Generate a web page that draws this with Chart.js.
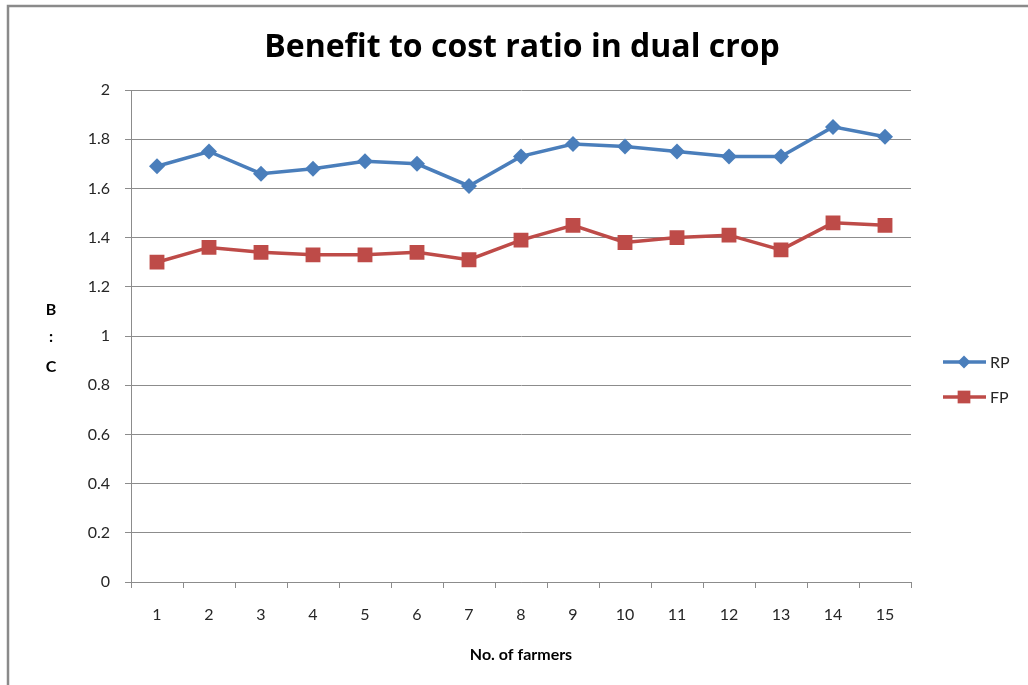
<!DOCTYPE html>
<html>
<head>
<meta charset="utf-8">
<title>Benefit to cost ratio in dual crop</title>
<script src="https://cdn.jsdelivr.net/npm/chart.js@4/dist/chart.umd.min.js"></script>
<style>
  html, body { margin: 0; padding: 0; background: #ffffff; }
  canvas { display: block; }
</style>
</head>
<body>
<canvas id="chart" width="1028" height="685"></canvas>
<script>
// Farmer numbers along the category axis
const farmers = ['1', '2', '3', '4', '5', '6', '7', '8', '9', '10', '11', '12', '13', '14', '15'];

// Benefit : cost ratios per farmer
const rpValues = [1.69, 1.75, 1.66, 1.68, 1.71, 1.70, 1.61, 1.73, 1.78, 1.77, 1.75, 1.73, 1.73, 1.85, 1.81];
const fpValues = [1.30, 1.36, 1.34, 1.33, 1.33, 1.34, 1.31, 1.39, 1.45, 1.38, 1.40, 1.41, 1.35, 1.46, 1.45];

// Value axis range and step
const yMin = 0;
const yMax = 2;
const yStep = 0.2;

// Text labels
const chartTitle = 'Benefit to cost ratio in dual crop';
const xTitle = 'No. of farmers';
const yTitleLines = ['B', ':', 'C'];

const FONT = 'Lato, "Open Sans", "DejaVu Sans", sans-serif';
const TITLE_FONT = '"Open Sans", Lato, "DejaVu Sans", sans-serif';
const GRID = '#8c8c8c';
const TEXT = '#262626';

// Frame, title, stacked y title and line-with-marker legend
const decor = {
  id: 'decor',
  beforeDraw(chart) {
    const ctx = chart.ctx;
    ctx.save();
    ctx.strokeStyle = '#8a8a8a';
    ctx.lineWidth = 2.5;
    ctx.beginPath();
    ctx.moveTo(8, 700);
    ctx.lineTo(8, 6);
    ctx.lineTo(1040, 6);
    ctx.stroke();
    ctx.restore();
  },
  afterDraw(chart) {
    const ctx = chart.ctx;
    ctx.save();
    // chart title
    ctx.fillStyle = '#000';
    ctx.font = 'bold 32px ' + TITLE_FONT;
    ctx.textAlign = 'center';
    ctx.textBaseline = 'alphabetic';
    ctx.fillText(chartTitle, 522, 57);

    // stacked axis title
    ctx.font = 'bold 16px ' + FONT;
    ctx.textBaseline = 'middle';
    const ys = [310, 337, 367];
    yTitleLines.forEach((t, i) => ctx.fillText(t, 51, ys[i]));

    // legend
    chart.data.datasets.forEach((ds, i) => {
      const y = 362 + i * 35;
      ctx.strokeStyle = ds.borderColor;
      ctx.lineWidth = 3.5;
      ctx.beginPath();
      ctx.moveTo(943, y);
      ctx.lineTo(986, y);
      ctx.stroke();
      ctx.fillStyle = ds.pointBackgroundColor;
      ctx.strokeStyle = ds.pointBorderColor;
      Chart.helpers.drawPoint(ctx, {
        pointStyle: ds.pointStyle,
        radius: ds.pointStyle === 'rect' ? 9 : 6.5,
        rotation: 0,
        borderWidth: 0
      }, 964, y);
      ctx.fillStyle = TEXT;
      ctx.font = '16px ' + FONT;
      ctx.textAlign = 'left';
      ctx.textBaseline = 'middle';
      ctx.fillText(ds.label, 990, y + 1);
    });
    ctx.restore();
  }
};

new Chart(document.getElementById('chart'), {
  type: 'line',
  data: {
    labels: farmers,
    datasets: [
      {
        label: 'RP',
        data: rpValues,
        borderColor: '#4a7ebb',
        backgroundColor: '#4a7ebb',
        pointBackgroundColor: '#4a7ebb',
        pointBorderColor: '#4a7ebb',
        pointStyle: 'rectRot',
        pointRadius: 8,
        pointBorderWidth: 0,
        borderWidth: 3.5,
        tension: 0
      },
      {
        label: 'FP',
        data: fpValues,
        borderColor: '#be4b48',
        backgroundColor: '#be4b48',
        pointBackgroundColor: '#be4b48',
        pointBorderColor: '#be4b48',
        pointStyle: 'rect',
        pointRadius: 10.5,
        pointBorderWidth: 0,
        borderWidth: 3.5,
        tension: 0
      }
    ]
  },
  options: {
    responsive: false,
    animation: false,
    devicePixelRatio: 1,
    layout: { padding: { left: 0, right: 117, top: 90, bottom: 0 } },
    plugins: {
      legend: { display: false },
      tooltip: { enabled: false },
      title: { display: false }
    },
    scales: {
      x: {
        offset: true,
        grid: {
          display: true,
          offset: true,
          drawOnChartArea: false,
          drawTicks: true,
          tickLength: 6,
          color: GRID,
          tickColor: GRID
        },
        border: { display: true, color: GRID, width: 1 },
        ticks: {
          color: TEXT,
          font: { family: FONT, size: 16 },
          padding: 17,
          maxRotation: 0,
          autoSkip: false
        },
        title: {
          display: true,
          text: xTitle,
          color: '#000',
          font: { family: FONT, size: 16, weight: 'bold' },
          padding: { top: 0, bottom: 21 }
        },
        afterFit(scale) { scale.height = 103; }
      },
      y: {
        min: yMin,
        max: yMax,
        grid: {
          color: GRID,
          tickColor: GRID,
          tickLength: 6,
          drawTicks: true
        },
        border: { display: true, color: GRID, width: 1 },
        ticks: {
          stepSize: yStep,
          color: TEXT,
          font: { family: FONT, size: 16 },
          padding: 15,
          callback: v => String(Number(v.toFixed(1)))
        },
        afterFit(scale) { scale.width = 131; }
      }
    }
  },
  plugins: [decor]
});
</script>
</body>
</html>
